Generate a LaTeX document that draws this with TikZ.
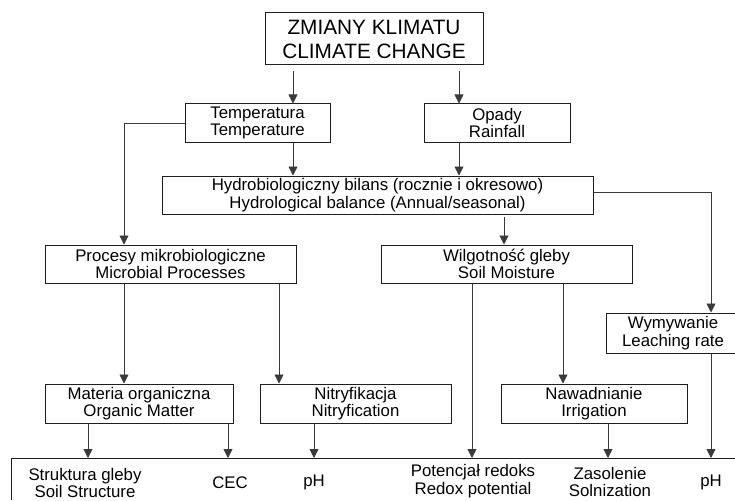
\documentclass[tikz,border=0pt]{standalone}
\usepackage{fontspec}
\setmainfont{Liberation Sans}
\usetikzlibrary{arrows.meta}
\definecolor{boxline}{HTML}{1E1E1E}
\definecolor{conline}{HTML}{3A3A3A}
\begin{document}
\begin{tikzpicture}[x=1pt,y=-1pt,
  box/.style={draw=boxline, line width=1pt, rectangle, inner sep=0pt, align=center,
    font=\fontsize{16.8}{17.5}\selectfont},
  lbl/.style={inner sep=0pt, align=center, font=\fontsize{16.8}{17.5}\selectfont},
  arr/.style={draw=conline, line width=0.8pt, -{Triangle[length=9pt,width=9pt]}},
  ln/.style={draw=boxline, line width=1pt}]
\useasboundingbox (0,0) rectangle (735,500);

\node[box, minimum width=218pt, minimum height=52pt, font=\fontsize{20.8}{24}\selectfont] (cc) at (374,39) {ZMIANY KLIMATU\\CLIMATE CHANGE};
\node[box, minimum width=145pt, minimum height=38pt] (temp) at (257.5,123) {Temperatura\\Temperature};
\node[box, minimum width=146pt, minimum height=38pt] (rain) at (497,123) {Opady\\Rainfall};
\node[box, minimum width=431pt, minimum height=38pt] (hydro) at (377.5,195) {Hydrobiologiczny bilans (rocznie i okresowo)\\Hydrological balance (Annual/seasonal)};
\node[box, minimum width=251pt, minimum height=38pt] (micro) at (170.5,264) {Procesy mikrobiologiczne\\Microbial Processes};
\node[box, minimum width=251pt, minimum height=38pt] (moist) at (506.5,264) {Wilgotność gleby\\Soil Moisture};
\node[box, minimum width=134pt, minimum height=40pt] (leach) at (673,333) {Wymywanie\\Leaching rate};
\node[box, minimum width=188pt, minimum height=39pt] (om) at (139,403.5) {Materia organiczna\\Organic Matter};
\node[box, minimum width=191pt, minimum height=39pt] (nitr) at (355.5,403.5) {Nitryfikacja\\Nitryfication};
\node[box, minimum width=186pt, minimum height=39pt] (irr) at (594,403.5) {Nawadnianie\\Irrigation};

\node[inner sep=0pt, minimum width=724pt, minimum height=42pt, anchor=north west] (base) at (11,458) {};
\draw[ln] (base.north east) -- (base.north west) -- (base.south west);

\node[lbl] (ss) at (85,483) {Struktura gleby\\Soil Structure};
\node[lbl] (cec) at (230,483) {CEC};
\node[lbl] (ph1) at (314,482) {pH};
\node[lbl] (redox) at (473,481) {Potencjał redoks\\Redox potential};
\node[lbl] (sal) at (610,482) {Zasolenie\\Solnization};
\node[lbl] (ph2) at (711,482) {pH};

\draw[arr] (cc.south -| 293,0) ++(0,6) -- (temp.north -| 293,0);
\draw[arr] (cc.south -| 459,0) ++(0,6) -- (rain.north -| 459,0);
\draw[arr] (temp.south -| 293,0) -- (hydro.north -| 293,0);
\draw[arr] (rain.south -| 459,0) -- (hydro.north -| 459,0);
\draw[arr] (temp.west) -| (micro.north -| 124,0);
\draw[arr] ([yshift=3pt]hydro.east) -| (leach.north -| 711,0);
\draw[arr] (hydro.south -| 504,0) ++(0,2) -- (moist.north -| 504,0);
\draw[arr] (micro.south -| 124,0) -- (om.north -| 124,0);
\draw[arr] (micro.south -| 279,0) -- (nitr.north -| 279,0);
\draw[arr] (moist.south -| 472,0) -- (base.north -| 472,0);
\draw[arr] (moist.south -| 563,0) -- (irr.north -| 563,0);
\draw[arr] (leach.south -| 711,0) -- (base.north -| 711,0);
\draw[arr] (om.south -| 88,0) -- (base.north -| 88,0);
\draw[arr] (om.south -| 228,0) -- (base.north -| 228,0);
\draw[arr] (nitr.south -| 314,0) -- (base.north -| 314,0);
\draw[arr] (irr.south -| 608,0) -- (base.north -| 608,0);
\end{tikzpicture}
\end{document}
